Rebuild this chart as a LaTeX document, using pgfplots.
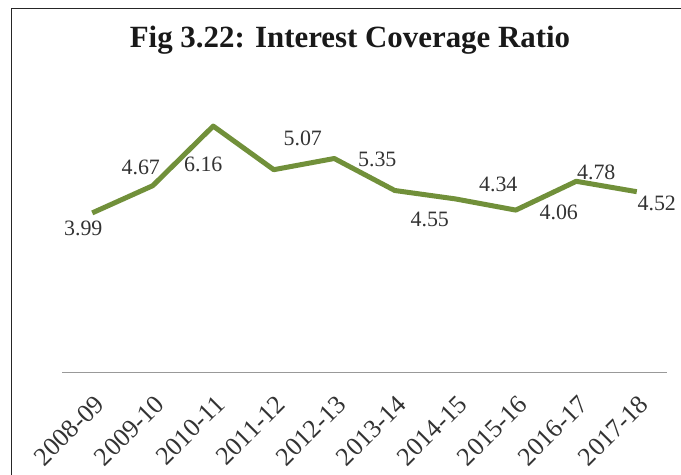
\documentclass[border=0pt]{standalone}
\usepackage{pgfplots}
\pgfplotsset{compat=1.18}
\usepackage{fontspec}
\setmainfont{Liberation Serif}
\definecolor{linegreen}{HTML}{71903A}
\definecolor{txt}{HTML}{333333}
\begin{document}
\begin{tikzpicture}[x=1bp,y=1bp]
\useasboundingbox (0,0) rectangle (681,475);
\draw[line width=1.5bp, black!85] (11.5,0) -- (11.5,466.5) -- (681,466.5);
\node[font=\fontsize{31}{36}\selectfont\bfseries, text=black!90] at (350,435) {Fig 3.22: Interest Coverage Ratio};
\begin{axis}[
  at={(62bp,102.5bp)}, anchor=south west,
  scale only axis, width=605bp, height=280bp,
  xmin=-0.5, xmax=9.5, ymin=0, ymax=7,
  axis y line=none, axis x line=bottom,
  x axis line style={-, draw=black!40, line width=1.8bp},
  xtick={0,...,9},
  xticklabels={2008-09,2009-10,2010-11,2011-12,2012-13,2013-14,2014-15,2015-16,2016-17,2017-18},
  major tick length=0pt,
  xticklabel style={font=\fontsize{26}{30}\selectfont, text=txt, anchor=north east, inner sep=0pt, xshift=1bp, yshift=-21bp, rotate=45},
  clip=false,
]
\addplot[linegreen, line width=5bp, line join=round] coordinates {(0,3.99)(1,4.67)(2,6.16)(3,5.07)(4,5.35)(5,4.55)(6,4.34)(7,4.06)(8,4.78)(9,4.52)};
\begin{scope}[every node/.style={font=\fontsize{22}{26}\selectfont, text=txt}]
\node[xshift=-9bp,yshift=-16bp] at (axis cs:0,3.99) {3.99};
\node[xshift=-12bp,yshift=18bp] at (axis cs:1,4.67) {4.67};
\node[xshift=-10bp,yshift=-38bp] at (axis cs:2,6.16) {6.16};
\node[xshift=29bp,yshift=31bp] at (axis cs:3,5.07) {5.07};
\node[xshift=43bp,yshift=-1bp] at (axis cs:4,5.35) {5.35};
\node[xshift=35bp,yshift=-29bp] at (axis cs:5,4.55) {4.55};
\node[xshift=43bp,yshift=14bp] at (axis cs:6,4.34) {4.34};
\node[xshift=43bp,yshift=-2bp] at (axis cs:7,4.06) {4.06};
\node[xshift=20bp,yshift=9bp] at (axis cs:8,4.78) {4.78};
\node[xshift=20bp,yshift=-12bp] at (axis cs:9,4.52) {4.52};
\end{scope}
\end{axis}
\end{tikzpicture}
\end{document}
